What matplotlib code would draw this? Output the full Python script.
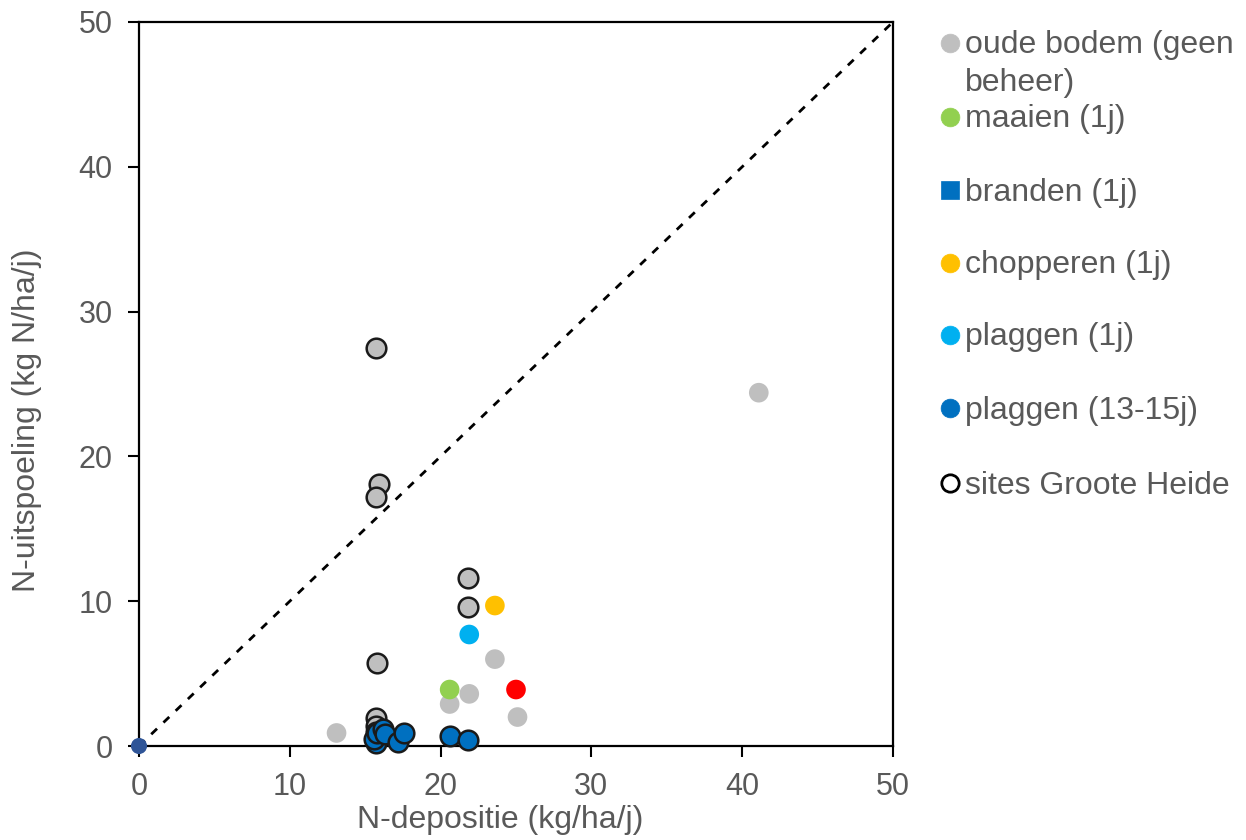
import matplotlib
matplotlib.use("Agg")
import matplotlib.pyplot as plt
from matplotlib.lines import Line2D

plt.rcParams['font.family'] = ['Liberation Sans', 'DejaVu Sans']

# Oude bodem (geen beheer)
oud_x = [13.1, 20.6, 21.9, 23.6, 25.1, 41.1]
oud_y = [0.9, 2.9, 3.6, 6.0, 2.0, 24.4]

# Maaien, chopperen, plaggen (1j), extra punt
maai_x, maai_y = [20.6], [3.9]
chop_x, chop_y = [23.6], [9.7]
plag1_x, plag1_y = [21.9], [7.7]
rood_x, rood_y = [25.0], [3.9]

# Branden (1j)
brand_x, brand_y = [0.0], [0.0]

# Sites Groote Heide: oude bodem
gh_oud_x = [15.7, 15.9, 15.7, 21.8, 21.8, 15.8, 15.7, 15.7, 15.7]
gh_oud_y = [27.5, 18.1, 17.2, 11.6, 9.6, 5.7, 1.9, 1.4, 1.0]

# Sites Groote Heide: plaggen (13-15j)
gh_plag_x = [15.7, 15.6, 15.8, 16.2, 16.3, 17.2, 17.6, 20.6, 21.8]
gh_plag_y = [0.2, 0.5, 0.9, 1.2, 0.8, 0.3, 0.9, 0.7, 0.4]

legend_labels = ["oude bodem (geen\nbeheer)", "maaien (1j)", "branden (1j)",
                 "chopperen (1j)", "plaggen (1j)", "plaggen (13-15j)",
                 "sites Groote Heide"]

GRAY = "#BFBFBF"
GREEN = "#92D050"
BLUE = "#0070C0"
ORANGE = "#FFC000"
LBLUE = "#00B0F0"
RED = "#FF0000"
NAVY = "#2F5597"
TXT = "#595959"

W, H = 1246, 840
fig = plt.figure(figsize=(W / 100, H / 100), dpi=100)
x0, x1, y0, y1 = 139, 893, 22, 746          # axes box in pixels
ax = fig.add_axes([x0 / W, (H - y1) / H, (x1 - x0) / W, (y1 - y0) / H])

ax.plot([0, 50], [0, 50], ls=(0, (2.9, 3.2)), color="black", lw=2.0, zorder=1)

S = 200
ax.scatter(oud_x, oud_y, s=S, color=GRAY, edgecolors="none", zorder=3)
ax.scatter(maai_x, maai_y, s=S, color=GREEN, edgecolors="none", zorder=3)
ax.scatter(chop_x, chop_y, s=S, color=ORANGE, edgecolors="none", zorder=3)
ax.scatter(plag1_x, plag1_y, s=S, color=LBLUE, edgecolors="none", zorder=3)
ax.scatter(rood_x, rood_y, s=S, color=RED, edgecolors="none", zorder=3)
ax.scatter(gh_oud_x, gh_oud_y, s=S, color=GRAY, edgecolors="#1a1a1a",
           linewidths=1.8, zorder=4)
ax.scatter(gh_plag_x, gh_plag_y, s=S, color=BLUE, edgecolors="#1a1a1a",
           linewidths=1.8, zorder=5, clip_on=False)
ax.scatter(brand_x, brand_y, s=135, marker="o", color=NAVY, edgecolors="none",
           zorder=6, clip_on=False)

ax.set_xlim(0, 50)
ax.set_ylim(0, 50)
ax.set_xticks(range(0, 51, 10))
ax.set_yticks(range(0, 51, 10))
ax.tick_params(axis="both", direction="out", length=8, width=1.5,
               colors="black", labelcolor=TXT, labelsize=22, pad=11)
for sp in ax.spines.values():
    sp.set_linewidth(1.6)
    sp.set_color("black")

ax.set_xlabel("N-depositie (kg/ha/j)", fontsize=23, color=TXT)
ax.set_ylabel("N-uitspoeling (kg N/ha/j)", fontsize=23, color=TXT)
ax.xaxis.label.set_va("baseline")
ax.yaxis.label.set_va("baseline")
ax.xaxis.set_label_coords((500 - x0) / (x1 - x0), (y1 - 828) / (y1 - y0))
ax.yaxis.set_label_coords((35 - x0) / (x1 - x0), (y1 - 420) / (y1 - y0))

# Legend drawn in figure pixel coordinates
handles = [
    dict(marker="o", mfc=GRAY, mec=GRAY),
    dict(marker="o", mfc=GREEN, mec=GREEN),
    dict(marker="s", mfc=BLUE, mec=BLUE),
    dict(marker="o", mfc=ORANGE, mec=ORANGE),
    dict(marker="o", mfc=LBLUE, mec=LBLUE),
    dict(marker="o", mfc=BLUE, mec=BLUE),
    dict(marker="o", mfc="white", mec="black"),
]
rows = [43, 117, 190, 263, 335, 408, 483]
for h, lab, yp in zip(handles, legend_labels, rows):
    ms = 12.5 if h["mfc"] == "white" else 13.5
    mew = 2.0 if h["mfc"] == "white" else 0.5
    fig.add_artist(Line2D([950 / W], [(H - yp) / H], marker=h["marker"], ms=ms,
                          mfc=h["mfc"], mec=h["mec"], mew=mew, ls="none",
                          transform=fig.transFigure))
    for i, line in enumerate(lab.split("\n")):
        base = yp + 10.5 + i * 37
        fig.text(965 / W, (H - base) / H, line, fontsize=23, color=TXT,
                 va="baseline", ha="left")

fig.savefig("out.png", dpi=100)
